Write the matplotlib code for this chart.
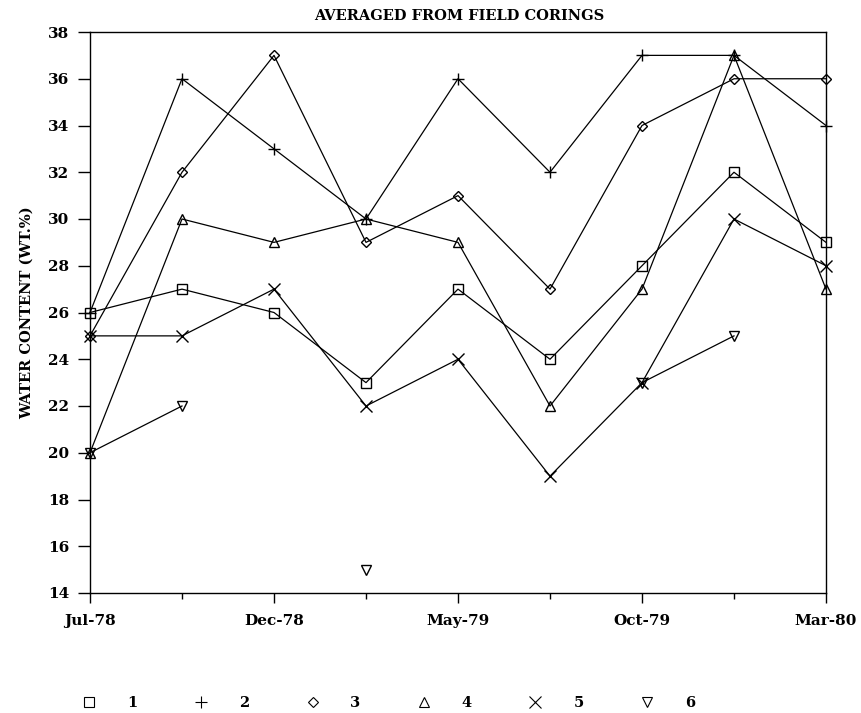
import numpy as np
import matplotlib
matplotlib.use("Agg")
import matplotlib.pyplot as plt
from matplotlib.lines import Line2D

dates = ["Jul-78", "Sep-78", "Dec-78", "Feb-79", "May-79", "Jul-79", "Oct-79", "Dec-79", "Mar-80"]
tick_labels = ["Jul-78", "Dec-78", "May-79", "Oct-79", "Mar-80"]
series_names = ["1", "2", "3", "4", "5", "6"]

s1 = [26, 27, 26, 23, 27, 24, 28, 32, 29]
s2 = [26, 36, 33, 30, 36, 32, 37, 37, 34]
s3 = [25, 32, 37, 29, 31, 27, 34, 36, 36]
s4 = [20, 30, 29, 30, 29, 22, 27, 37, 27]
s5 = [25, 25, 27, 22, 24, 19, 23, 30, 28]
s6 = [20, 22, np.nan, 15, np.nan, np.nan, 23, 25, np.nan]

markers = ["s", "+", "D", "^", "x", "v"]
msizes = [6.5, 8, 5, 6.5, 8, 6.5]

plt.rcParams['font.family'] = ['DejaVu Serif']
plt.rcParams['font.weight'] = 'bold'

fig = plt.figure(figsize=(8.62, 7.13), dpi=100)
ax = fig.add_axes([90/862, 1-593/713, (826-90)/862, (593-32)/713])

x = np.arange(len(dates))
handles = []
for vals, m, ms, name in zip([s1, s2, s3, s4, s5, s6], markers, msizes, series_names):
    ax.plot(x, vals, color='black', lw=0.9, marker=m, ms=ms, mfc='none', mec='black', mew=1.0, clip_on=False)
    handles.append(Line2D([], [], ls='none', marker=m, ms=ms, mfc='none', mec='black', mew=0.8,
                          color='black', label=name))

ax.set_xlim(0, 8)
ax.set_ylim(14, 38)
ax.set_yticks(np.arange(14, 39, 2))
ax.set_xticks([0, 2, 4, 6, 8])
ax.set_xticklabels(tick_labels)
ax.set_xticks([1, 3, 5, 7], minor=True)
ax.tick_params(axis='y', direction='out', length=9, width=1.0, labelsize=11, pad=6)
ax.tick_params(axis='x', which='major', direction='out', length=7, width=1.0, labelsize=11, pad=8)
ax.tick_params(axis='x', which='minor', direction='out', length=4, width=1.0)
for sp in ax.spines.values():
    sp.set_linewidth(1.0)

ax.set_ylabel("WATER CONTENT (WT.%)", fontsize=10.5, fontweight='bold', labelpad=10)
fig.text(459/862, 1-16/713, "AVERAGED FROM FIELD CORINGS", ha='center', va='center', fontsize=10.5, fontweight='bold')

fig.legend(handles=handles, loc='center left', bbox_to_anchor=(82/862, 1-703/713), ncol=6, frameon=False,
           handlelength=1.0, handletextpad=2.1, columnspacing=3.85, borderpad=0, borderaxespad=0,
           prop={'size': 10.5, 'weight': 'bold'})

fig.savefig("out.png", dpi=100)
